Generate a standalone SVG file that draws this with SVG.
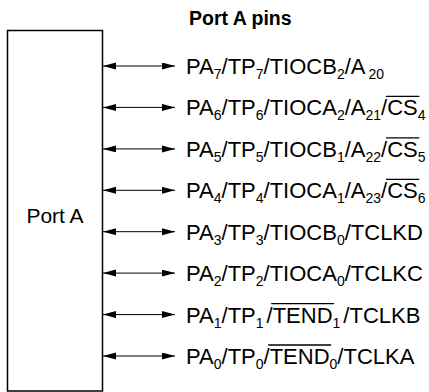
<svg xmlns="http://www.w3.org/2000/svg" width="429" height="392" viewBox="0 0 429 392">
<style>
.pin{font-family:"Liberation Sans",Arial,sans-serif;font-size:22px;fill:#000}
.sub{font-size:14px}
.title{font-family:"Liberation Sans",Arial,sans-serif;font-size:19.5px;font-weight:bold;fill:#000}
.lbl{font-family:"Liberation Sans",Arial,sans-serif;font-size:21px;fill:#000}
.conn{stroke:#000;stroke-width:1;fill:none}
.ol{stroke:#000;stroke-width:1.3}
</style>
<defs>
<marker id="ah" markerUnits="userSpaceOnUse" markerWidth="14" markerHeight="8" refX="13" refY="3.5" orient="auto-start-reverse" viewBox="0 0 14 8">
<path d="M0,0 L13,3.5 L0,7 z" fill="#000"/>
</marker>
</defs>
<rect fill="#fff" width="429" height="392"/>
<text class="title" x="189" y="25">Port A pins</text>
<g id="portA">
<rect x="7.5" y="30.5" width="95" height="360.5" fill="none" stroke="#000" stroke-width="1.5"/>
<text class="lbl" x="55" y="223" text-anchor="middle">Port A</text>
</g>
<g id="connectors">
<line class="conn" x1="103" y1="66" x2="175" y2="66" marker-start="url(#ah)" marker-end="url(#ah)"/>
<line class="conn" x1="103" y1="107.4" x2="175" y2="107.4" marker-start="url(#ah)" marker-end="url(#ah)"/>
<line class="conn" x1="103" y1="148.9" x2="175" y2="148.9" marker-start="url(#ah)" marker-end="url(#ah)"/>
<line class="conn" x1="103" y1="190.3" x2="175" y2="190.3" marker-start="url(#ah)" marker-end="url(#ah)"/>
<line class="conn" x1="103" y1="231.7" x2="175" y2="231.7" marker-start="url(#ah)" marker-end="url(#ah)"/>
<line class="conn" x1="103" y1="273.1" x2="175" y2="273.1" marker-start="url(#ah)" marker-end="url(#ah)"/>
<line class="conn" x1="103" y1="314.6" x2="175" y2="314.6" marker-start="url(#ah)" marker-end="url(#ah)"/>
<line class="conn" x1="103" y1="356" x2="175" y2="356" marker-start="url(#ah)" marker-end="url(#ah)"/>
</g>
<g id="pa7">
<text class="pin" x="186" y="74">PA<tspan class="sub" dy="5">7</tspan><tspan dy="-5">/TP</tspan><tspan class="sub" dy="5">7</tspan><tspan dy="-5">/TIOCB</tspan><tspan class="sub" dy="5">2</tspan><tspan dy="-5">/A</tspan><tspan class="sub" dx="3" dy="5">20</tspan></text>
</g>
<g id="pa6">
<text class="pin" x="186" y="115.4">PA<tspan class="sub" dy="5">6</tspan><tspan dy="-5">/TP</tspan><tspan class="sub" dy="5">6</tspan><tspan dy="-5">/TIOCA</tspan><tspan class="sub" dy="5">2</tspan><tspan dy="-5">/A</tspan><tspan class="sub" dy="5">21</tspan><tspan dy="-5">/CS</tspan><tspan class="sub" dy="5">4</tspan></text>
<line class="ol" x1="386" y1="96.4" x2="419.3" y2="96.4"/>
</g>
<g id="pa5">
<text class="pin" x="186" y="156.9">PA<tspan class="sub" dy="5">5</tspan><tspan dy="-5">/TP</tspan><tspan class="sub" dy="5">5</tspan><tspan dy="-5">/TIOCB</tspan><tspan class="sub" dy="5">1</tspan><tspan dy="-5">/A</tspan><tspan class="sub" dy="5">22</tspan><tspan dy="-5">/CS</tspan><tspan class="sub" dy="5">5</tspan></text>
<line class="ol" x1="386" y1="137.9" x2="419.3" y2="137.9"/>
</g>
<g id="pa4">
<text class="pin" x="186" y="198.3">PA<tspan class="sub" dy="5">4</tspan><tspan dy="-5">/TP</tspan><tspan class="sub" dy="5">4</tspan><tspan dy="-5">/TIOCA</tspan><tspan class="sub" dy="5">1</tspan><tspan dy="-5">/A</tspan><tspan class="sub" dy="5">23</tspan><tspan dy="-5">/CS</tspan><tspan class="sub" dy="5">6</tspan></text>
<line class="ol" x1="386" y1="179.3" x2="419.3" y2="179.3"/>
</g>
<g id="pa3">
<text class="pin" x="186" y="239.7">PA<tspan class="sub" dy="5">3</tspan><tspan dy="-5">/TP</tspan><tspan class="sub" dy="5">3</tspan><tspan dy="-5">/TIOCB</tspan><tspan class="sub" dy="5">0</tspan><tspan dy="-5">/TCLKD</tspan></text>
</g>
<g id="pa2">
<text class="pin" x="186" y="281.1">PA<tspan class="sub" dy="5">2</tspan><tspan dy="-5">/TP</tspan><tspan class="sub" dy="5">2</tspan><tspan dy="-5">/TIOCA</tspan><tspan class="sub" dy="5">0</tspan><tspan dy="-5">/TCLKC</tspan></text>
</g>
<g id="pa1">
<text class="pin" x="186" y="322.6">PA<tspan class="sub" dy="5">1</tspan><tspan dy="-5">/TP</tspan><tspan class="sub" dy="5">1</tspan><tspan dx="3" dy="-5">/TEND</tspan><tspan class="sub" dy="5">1</tspan><tspan dx="3" dy="-5">/TCLKB</tspan></text>
<line class="ol" x1="271.2" y1="303.6" x2="334.1" y2="303.6"/>
</g>
<g id="pa0">
<text class="pin" x="186" y="364">PA<tspan class="sub" dy="5">0</tspan><tspan dy="-5">/TP</tspan><tspan class="sub" dy="5">0</tspan><tspan dy="-5">/TEND</tspan><tspan class="sub" dy="5">0</tspan><tspan dy="-5">/TCLKA</tspan></text>
<line class="ol" x1="268.2" y1="345" x2="331.1" y2="345"/>
</g>
</svg>
